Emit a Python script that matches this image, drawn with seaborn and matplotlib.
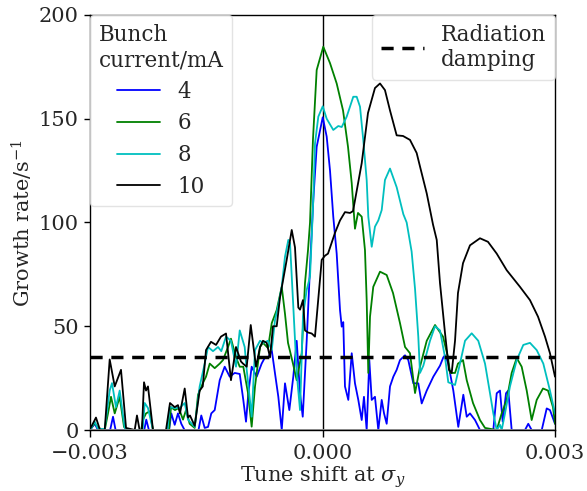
import numpy as np
import pandas as pd
import matplotlib
matplotlib.use("Agg")
import matplotlib.pyplot as plt
import seaborn as sns
from matplotlib.lines import Line2D

sns.set_theme(style="ticks")
plt.rcParams["font.family"] = ["DejaVu Serif"]
plt.rcParams["mathtext.fontset"] = "dejavuserif"

# tune shift in units of 1e-3
x4 = [-3.000, -2.939, -2.897, -2.740, -2.703, -2.670, -2.300, -2.274, -2.240, -1.980, -1.951, -1.907, -1.865,
      -1.822, -1.780, -1.600, -1.564, -1.520, -1.477, -1.435, -1.391, -1.326, -1.262, -1.197, -1.133, -1.068,
      -1.022, -0.987, -0.957, -0.914, -0.849, -0.785, -0.742, -0.699, -0.655, -0.613, -0.570, -0.526, -0.484,
      -0.428, -0.377, -0.333, -0.290, -0.255, -0.204, -0.161, -0.119, -0.075, 0.003, 0.054, 0.097, 0.139,
      0.183, 0.226, 0.248, 0.268, 0.290, 0.333, 0.377, 0.419, 0.462, 0.506, 0.535, 0.570, 0.604, 0.635,
      0.677, 0.720, 0.764, 0.794, 0.828, 0.871, 0.914, 0.957, 1.000, 1.065, 1.107, 1.172, 1.236, 1.280,
      1.345, 1.430, 1.516, 1.559, 1.581, 1.623, 1.688, 1.752, 1.817, 1.861, 1.903, 1.968, 2.032, 2.204,
      2.248, 2.290, 2.325, 2.368, 2.397, 2.441, 2.613, 2.655, 2.699, 2.829, 2.893, 2.935, 3.000]
y4 = [0, 3, 0, 0, 6.4, 0, 0, 5, 0, 0, 8, 2.5, 8,
      3, 0, 0, 7, 1, 1.5, 8, 9.6, 24, 30.5, 25.7, 27.5, 27,
      14.5, 4, 17.7, 30.5, 25.7, 32, 35, 35, 38.5, 27.3, 16, 0, 22.5,
      9.6, 25.7, 43, 17.7, 6.4, 43, 78.7, 110.8, 136.5, 150.7, 141.4, 125, 102.8,
      85, 57.8, 49.8, 52, 21, 14.5, 37, 22.5, 14.5, 4.8, 16, 0, 33.7, 14.5,
      16, 0, 14.5, 8, 3, 21, 25.7, 29, 33.7, 36, 33.7, 22.5, 22.5, 12.8,
      19, 25.7, 31, 35, 36, 32, 19, 1.5, 17, 6.4, 8, 4.8, 0, 0,
      17.7, 19, 4, 17.7, 19, 0, 0, 3, 0, 0, 10.4, 9.6, 3]

x6 = [-3.000, -2.939, -2.897, -2.810, -2.768, -2.729, -2.681, -2.617, -2.561, -2.520, -2.340, -2.316, -2.277,
      -2.230, -2.187, -1.980, -1.955, -1.903, -1.855, -1.800, -1.761, -1.714, -1.649, -1.606, -1.545, -1.503,
      -1.455, -1.391, -1.326, -1.284, -1.219, -1.181, -1.116, -1.068, -1.022, -0.961, -0.914, -0.871, -0.806,
      -0.768, -0.703, -0.655, -0.591, -0.526, -0.484, -0.445, -0.381, -0.333, -0.268, -0.226, -0.187, -0.161,
      -0.123, -0.075, 0.010, 0.097, 0.183, 0.265, 0.329, 0.377, 0.419, 0.458, 0.506, 0.548, 0.570, 0.591,
      0.613, 0.655, 0.742, 0.828, 0.910, 1.000, 1.065, 1.129, 1.194, 1.258, 1.345, 1.452, 1.555, 1.619,
      1.645, 1.710, 1.748, 1.813, 1.861, 1.942, 2.032, 2.097, 2.248, 2.312, 2.377, 2.441, 2.506, 2.570,
      2.635, 2.699, 2.764, 2.845, 2.910, 2.974, 3.000]
y6 = [0, 3.4, 1, 0, 8, 16, 8, 16, 1.5, 0, 0, 5, 8,
      9, 0, 0, 11, 9.6, 10.6, 5, 9.6, 3, 1, 17, 22.5, 25.7,
      32, 29.8, 32, 33.7, 40, 44, 35, 30.5, 30.5, 17.8, 1.6, 21, 40,
      42, 39.5, 51.5, 57.8, 69, 56, 42, 32, 24, 37, 70.8, 86.7, 100,
      140, 173.5, 184.7, 176.8, 167, 154, 136.5, 119, 97, 104.6, 102.8, 86.7, 62.6, 27.5,
      54.6, 69, 76.3, 74.7, 66, 51.5, 40, 37, 17.8, 30.5, 43, 50.6, 45, 35,
      27.5, 27.5, 32, 33.7, 24, 13, 4.8, 1, 0, 8, 14.5, 27.5, 34.7, 30.5,
      19, 4.8, 14.5, 20, 19, 11, 3]

x8 = [-3.000, -2.939, -2.897, -2.810, -2.746, -2.716, -2.665, -2.617, -2.552, -2.520, -2.320, -2.294, -2.252,
      -2.187, -2.000, -1.972, -1.903, -1.843, -1.778, -1.735, -1.649, -1.585, -1.520, -1.477, -1.413, -1.348,
      -1.306, -1.245, -1.181, -1.116, -1.068, -1.004, -0.978, -0.914, -0.871, -0.806, -0.768, -0.703, -0.655,
      -0.613, -0.574, -0.526, -0.484, -0.441, -0.419, -0.381, -0.333, -0.290, -0.252, -0.204, -0.161, -0.119,
      -0.097, -0.054, 0.003, 0.054, 0.139, 0.204, 0.248, 0.312, 0.397, 0.441, 0.484, 0.526, 0.570, 0.591,
      0.635, 0.677, 0.720, 0.764, 0.806, 0.871, 0.957, 1.043, 1.086, 1.150, 1.194, 1.236, 1.258, 1.301,
      1.387, 1.452, 1.516, 1.581, 1.623, 1.710, 1.774, 1.839, 1.925, 2.010, 2.097, 2.161, 2.204, 2.248,
      2.290, 2.312, 2.355, 2.419, 2.506, 2.591, 2.677, 2.764, 2.849, 2.935, 3.000]
y8 = [0, 4, 0.5, 0.5, 19, 22.6, 11, 19, 1, 0, 0, 13, 10.6,
      0, 0, 11, 10.6, 10.6, 13, 5, 1.5, 21, 32, 40, 38, 40,
      38, 45, 43, 30.5, 48, 40, 29, 6.4, 38.5, 43, 42, 43, 38.5,
      53, 59.4, 69, 83.5, 91.6, 90, 62.6, 27.5, 9.6, 54.6, 67.5, 74, 110.8,
      138, 151, 156, 150, 144.6, 146.5, 146, 151, 160.6, 160.6, 155.8, 139.8, 120.5, 102.8,
      88.3, 98, 101, 106, 120.5, 126, 117, 104, 100, 86, 68, 45, 27.5, 31,
      43, 50, 48, 35, 23, 21.7, 32, 43, 46.6, 43, 32, 17.8, 8, 0,
      2.5, 0, 8, 21, 33.7, 41, 42, 38.5, 32, 19, 8]

x10 = [-3.000, -2.983, -2.923, -2.871, -2.810, -2.746, -2.681, -2.600, -2.535, -2.423, -2.394, -2.360, -2.330,
       -2.303, -2.277, -2.252, -2.187, -2.019, -1.968, -1.907, -1.865, -1.839, -1.778, -1.735, -1.710, -1.649,
       -1.585, -1.545, -1.503, -1.439, -1.374, -1.310, -1.245, -1.181, -1.116, -1.052, -1.026, -0.978, -0.926,
       -0.897, -0.858, -0.806, -0.768, -0.720, -0.677, -0.639, -0.591, -0.548, -0.462, -0.397, -0.355, -0.312,
       -0.290, -0.252, -0.226, -0.187, -0.139, -0.097, -0.010, 0.032, 0.071, 0.161, 0.226, 0.290, 0.355,
       0.394, 0.506, 0.587, 0.677, 0.742, 0.806, 0.871, 0.957, 1.039, 1.129, 1.215, 1.258, 1.345, 1.426,
       1.474, 1.516, 1.581, 1.632, 1.667, 1.710, 1.748, 1.813, 1.903, 2.032, 2.135, 2.248, 2.377, 2.548,
       2.677, 2.781, 2.871, 2.935, 3.000]
y10 = [1, 1.6, 6, 0, 0, 34, 21, 29, 1, 0, 7, 0, 0,
       23, 19, 21, 0, 0, 13, 11, 12, 8, 20, 6, 7, 2,
       19, 21, 38.5, 42.5, 41, 45, 46.5, 24, 40, 33, 32, 30.5, 50.6,
       42, 30.5, 40, 43, 42, 35, 50, 50, 64, 82, 96.4, 88, 59,
       58, 62.6, 48, 47, 46.5, 45, 82, 84, 85, 95, 101, 105, 104.6,
       105.5, 128.6, 152.8, 164.8, 167, 163.8, 154, 142, 141.7, 139.8, 133.5, 127, 114, 99,
       91.6, 70.8, 46.6, 29, 27.5, 43, 66, 80.4, 89, 92.4, 90.7, 85, 77, 69,
       62.6, 54.6, 45, 37, 25.7]

currents = ["4", "6", "8", "10"]
colors = ["#0000ff", "#008000", "#00bfbf", "#000000"]
damping_rate = 35
xticks = [-0.003, 0.0, 0.003]
xticklabels = ["\u22120.003", "0.000", "0.003"]
yticks = [0, 50, 100, 150, 200]

frames = []
for cur, xs, ys in zip(currents, [x4, x6, x8, x10], [y4, y6, y8, y10]):
    frames.append(pd.DataFrame({"shift": np.array(xs) * 1e-3, "rate": ys, "current": cur}))
df = pd.concat(frames, ignore_index=True)

FS = 15.0
fig = plt.figure(figsize=(5.87, 4.91), dpi=100)
ax = fig.add_axes([90 / 587, 1 - 430 / 491, 465 / 587, 415 / 491])

sns.lineplot(data=df, x="shift", y="rate", hue="current", hue_order=currents,
             palette=dict(zip(currents, colors)), estimator=None, sort=False,
             linewidth=1.3, ax=ax, legend=False)

ax.axvline(0, color="black", lw=1.0, zorder=1)
ax.axhline(0, color="gray", lw=2.0, zorder=3)
ax.axhline(damping_rate, color="black", lw=2.5, ls=(0, (3.5, 2.5)), zorder=4)

ax.set_xlim(-0.003, 0.003)
ax.set_ylim(0, 200)
ax.set_xticks(xticks)
ax.set_xticklabels(xticklabels)
ax.set_yticks(yticks)
ax.tick_params(axis="y", labelsize=FS, length=4, width=1, color="black", pad=4)
ax.tick_params(axis="x", labelsize=FS, length=5, width=1, color="black", pad=5)
for s in ax.spines.values():
    s.set_visible(True)
    s.set_color("black")
    s.set_linewidth(1.0)

ax.set_xlabel("Tune shift at $\\sigma_y$", fontsize=FS, labelpad=1)
ax.set_ylabel("Growth rate/s$^{-1}$", fontsize=FS, labelpad=3)

handles = [Line2D([], [], color=c, lw=1.3) for c in colors]
leg1 = ax.legend(handles, currents, title="Bunch\ncurrent/mA", loc="upper left",
                 fontsize=FS + 0.5, title_fontsize=FS + 0.5, frameon=True, fancybox=True,
                 borderaxespad=0.0, handlelength=2.0, borderpad=0.4, labelspacing=0.45)
leg1.get_title().set_multialignment("left")
leg1.get_frame().set_edgecolor("#dddddd")
ax.add_artist(leg1)

h2 = [Line2D([], [], color="black", lw=2.5, ls=(0, (3.5, 2.5)))]
leg2 = ax.legend(h2, ["Radiation\ndamping"], loc="upper right", fontsize=FS + 0.5,
                 frameon=True, fancybox=True, borderaxespad=0.0, handlelength=2.0)
leg2.get_frame().set_edgecolor("#dddddd")

fig.savefig("out.png", dpi=100)
